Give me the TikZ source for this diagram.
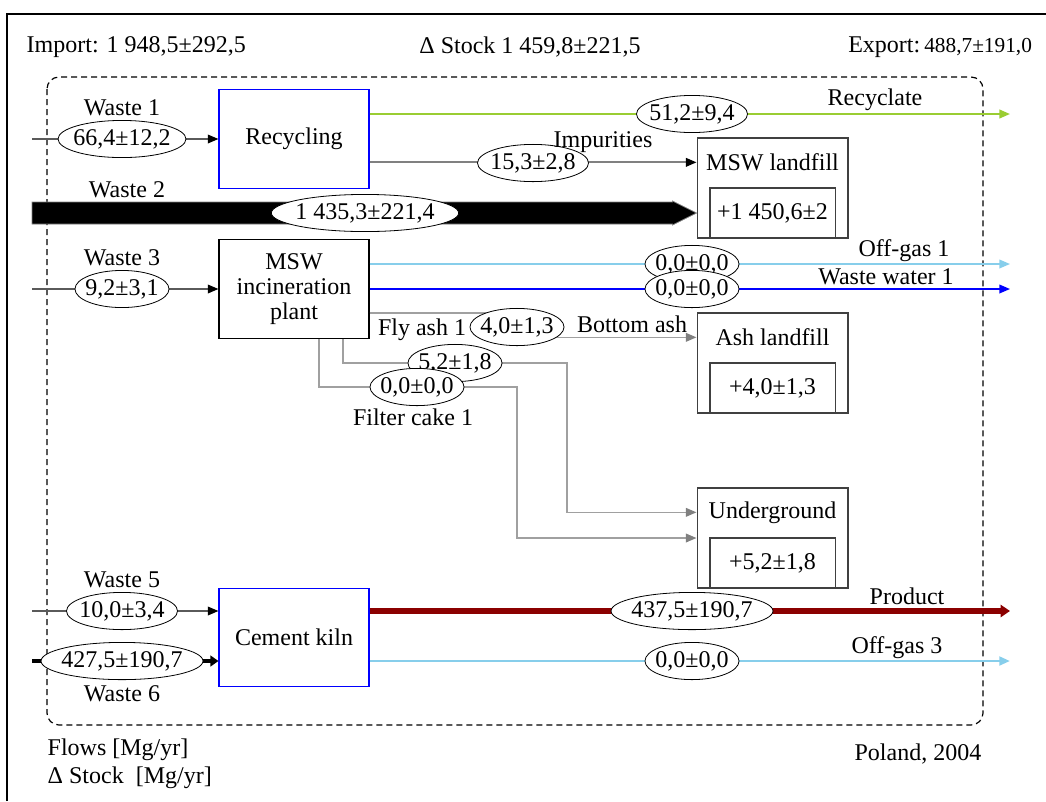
\documentclass[tikz,border=0pt]{standalone}
\usepackage{fontspec}
\setmainfont{Liberation Serif}
\definecolor{recline}{RGB}{154, 205, 50}
\definecolor{gasline}{RGB}{135, 206, 235}
\definecolor{ashline}{RGB}{160, 160, 160}
\definecolor{impline}{RGB}{128, 128, 128}
\definecolor{inline}{RGB}{90, 90, 90}
\definecolor{prodline}{RGB}{139, 0, 0}
\definecolor{boxline}{RGB}{64, 64, 64}
\usetikzlibrary{shapes, arrows.meta, positioning, calc}

\begin{document}
\begin{tikzpicture}[x=0.75pt, y=-0.75pt,
    font=\fontsize{18}{18.75}\selectfont,
    procbox/.style={draw=blue, line width=0.8pt, minimum width=112.5pt, minimum height=74pt, align=center, inner sep=2pt},
    stockbox/.style={draw=boxline, line width=1pt, minimum width=113pt, minimum height=75pt},
    stockin/.style={draw=boxline, line width=1pt, minimum width=94pt, minimum height=37.5pt},
    flowval/.style={ellipse, draw, fill=white, line width=0.6pt, inner xsep=-2.5pt, inner ysep=2.5pt},
    thinhead/.style={-{Triangle[length=8pt, width=6.5pt]}},
    inflow/.style={draw=inline, line width=1.1pt, -{Triangle[length=8pt, width=6.5pt, color=black]}},
    recflow/.style={draw=recline, line width=1.5pt, thinhead},
    gasflow/.style={draw=gasline, line width=1.2pt, thinhead},
    gasflowb/.style={draw=gasline, line width=2pt, thinhead},
    waterflow/.style={draw=blue, line width=1.2pt, thinhead},
    prodflow/.style={draw=prodline, line width=5pt, -{Triangle[length=7pt, width=9pt]}},
    impflow/.style={draw=impline, line width=1.3pt, -{Triangle[length=8pt, width=6.5pt, color=black]}},
    ashflow/.style={draw=ashline, line width=1.2pt, -{Triangle[length=8pt, width=6.5pt, color=gray]}}
  ]
  \useasboundingbox (0,0) rectangle (1046,801);

  % Frame and system boundary
  \draw[line width=1.1pt] (7,801) -- (7,14) -- (1046,14);
  \draw[black, dash pattern=on 4.5pt off 3pt, rounded corners=9pt, line width=0.9pt] (47,77) rectangle (983,725);

  % Balance texts
  \node[anchor=west] (imp) at (22,47) {Import: 1 948,5±292,5};
  \node (dstock) at (530,47) {Δ Stock 1 459,8±221,5};
  \node[anchor=west, inner sep=0pt] (exp) at (848,47) {Export:\,{\fontsize{16}{18}\selectfont 488,7±191,0}};
  \node[anchor=west] (units1) at (43,750) {Flows [Mg/yr]};
  \node[anchor=west] (units2) at (43,778) {Δ Stock\ \ [Mg/yr]};
  \node[anchor=east] (place) at (986,754) {Poland, 2004};

  % Processes
  \node[procbox] (recyc) at (294,139) {Recycling};
  \node[procbox, draw=black] (incin) at (294,289) {MSW\\incineration\\plant};
  \node[procbox] (kiln) at (294,637.5) {Cement kiln};

  % Stocks
  \foreach \nm/\y/\ttl/\st in {msw/188/MSW landfill/{+1 450,6±2}, ash/363/Ash landfill/{+4,0±1,3}, und/538/Underground/{+5,2±1,8}} {
    \node[stockbox] (\nm) at (772.5,\y) {};
    \node[stockin, anchor=south] (st\nm) at (\nm.south) {\st};
    \node (tt\nm) at ($(\nm.north)!0.5!(st\nm.north)$) {\ttl};
  }

  % Inputs
  \foreach \y/\dest/\fv/\lbl in {139/recyc/{66,4±12,2}/Waste 1, 289/incin/{9,2±3,1}/Waste 3, 611/kiln/{10,0±3,4}/Waste 5} {
    \coordinate (in\y) at (32,\y);
    \draw[inflow] (in\y) -- (\dest.west |- in\y);
    \node[flowval] (val\y) at (122,\y) {\fv};
    \node (lbl\y) at (122,\y-31) {\lbl};
  }

  % Waste 2 (direct to landfill)
  \coordinate (in213) at (32,213);
  \coordinate (w2tip) at (msw.west |- stmsw);
  \filldraw[fill=black, draw=gray, line width=0.6pt] ($(in213)+(0,-11)$) -- ($(w2tip)+(-24,-11)$) -- ($(w2tip)+(-24,-12)$) -- (w2tip) -- ($(w2tip)+(-24,12)$) -- ($(w2tip)+(-24,11)$) -- ($(in213)+(0,11)$) -- cycle;
  \node[flowval] (val213) at (365,213) {1 435,3±221,4};
  \node (lbl213) at (127,190) {Waste 2};

  % Waste 6
  \coordinate (in661) at (32,661);
  \draw[line width=3.5pt, -{Triangle[length=6pt, width=8pt]}] (in661) -- (kiln.west |- in661);
  \node[flowval] (val661) at (122,661) {427,5±190,7};
  \node (lbl661) at (122,694) {Waste 6};

  % Outputs
  \foreach \y/\src/\sty/\fv/\lbl/\lx/\dy in {114/recyc/recflow/{51,2±9,4}/Recyclate/875/9, 264/incin/gasflow/{0,0±0,0}/Off-gas 1/904/8, 289/incin/waterflow/{0,0±0,0}/Waste water 1/886/5, 611/kiln/prodflow/{437,5±190,7}/Product/907/7, 661/kiln/gasflowb/{0,0±0,0}/Off-gas 3/897/8} {
    \coordinate (out\y) at (1010,\y);
    \draw[\sty] (\src.east |- out\y) -- (out\y);
    \node[flowval] (oval\y) at (692,\y) {\fv};
    \node[anchor=base] (olbl\y) at (\lx,\y-\dy) {\lbl};
  }

  % Impurities
  \draw[impflow] (recyc.east |- ttmsw) -- (msw.west |- ttmsw);
  \node[flowval] (valimp) at (533,163) {15,3±2,8};
  \node[anchor=base] (lblimp) at (603,147) {Impurities};

  % Residues of incineration
  \coordinate (ba) at (517,313);
  \coordinate (fa) at (343,363);
  \coordinate (fab) at (567,363);
  \coordinate (fc) at (319,387);
  \coordinate (fcb) at (517,387);
  \draw[ashflow] (incin.east |- ba) -- (ba) |- (ash.west |- ttash);
  \draw[ashflow] (incin.south -| fa) |- (fab) |- (und.west |- ttund);
  \draw[ashflow] (incin.south -| fc) |- (fcb) |- (und.west);
  \node (lblfa) at (422,330) {Fly ash 1};
  \node (lblba) at (632,324) {Bottom ash};
  \node (lblfc) at (413,417) {Filter cake 1};
  \node[flowval] (valba) at (517,327) {4,0±1,3};
  \node[flowval] (valfa) at (455,363) {5,2±1,8};
  \node[flowval] (valfc) at (417,387) {0,0±0,0};
\end{tikzpicture}
\end{document}
